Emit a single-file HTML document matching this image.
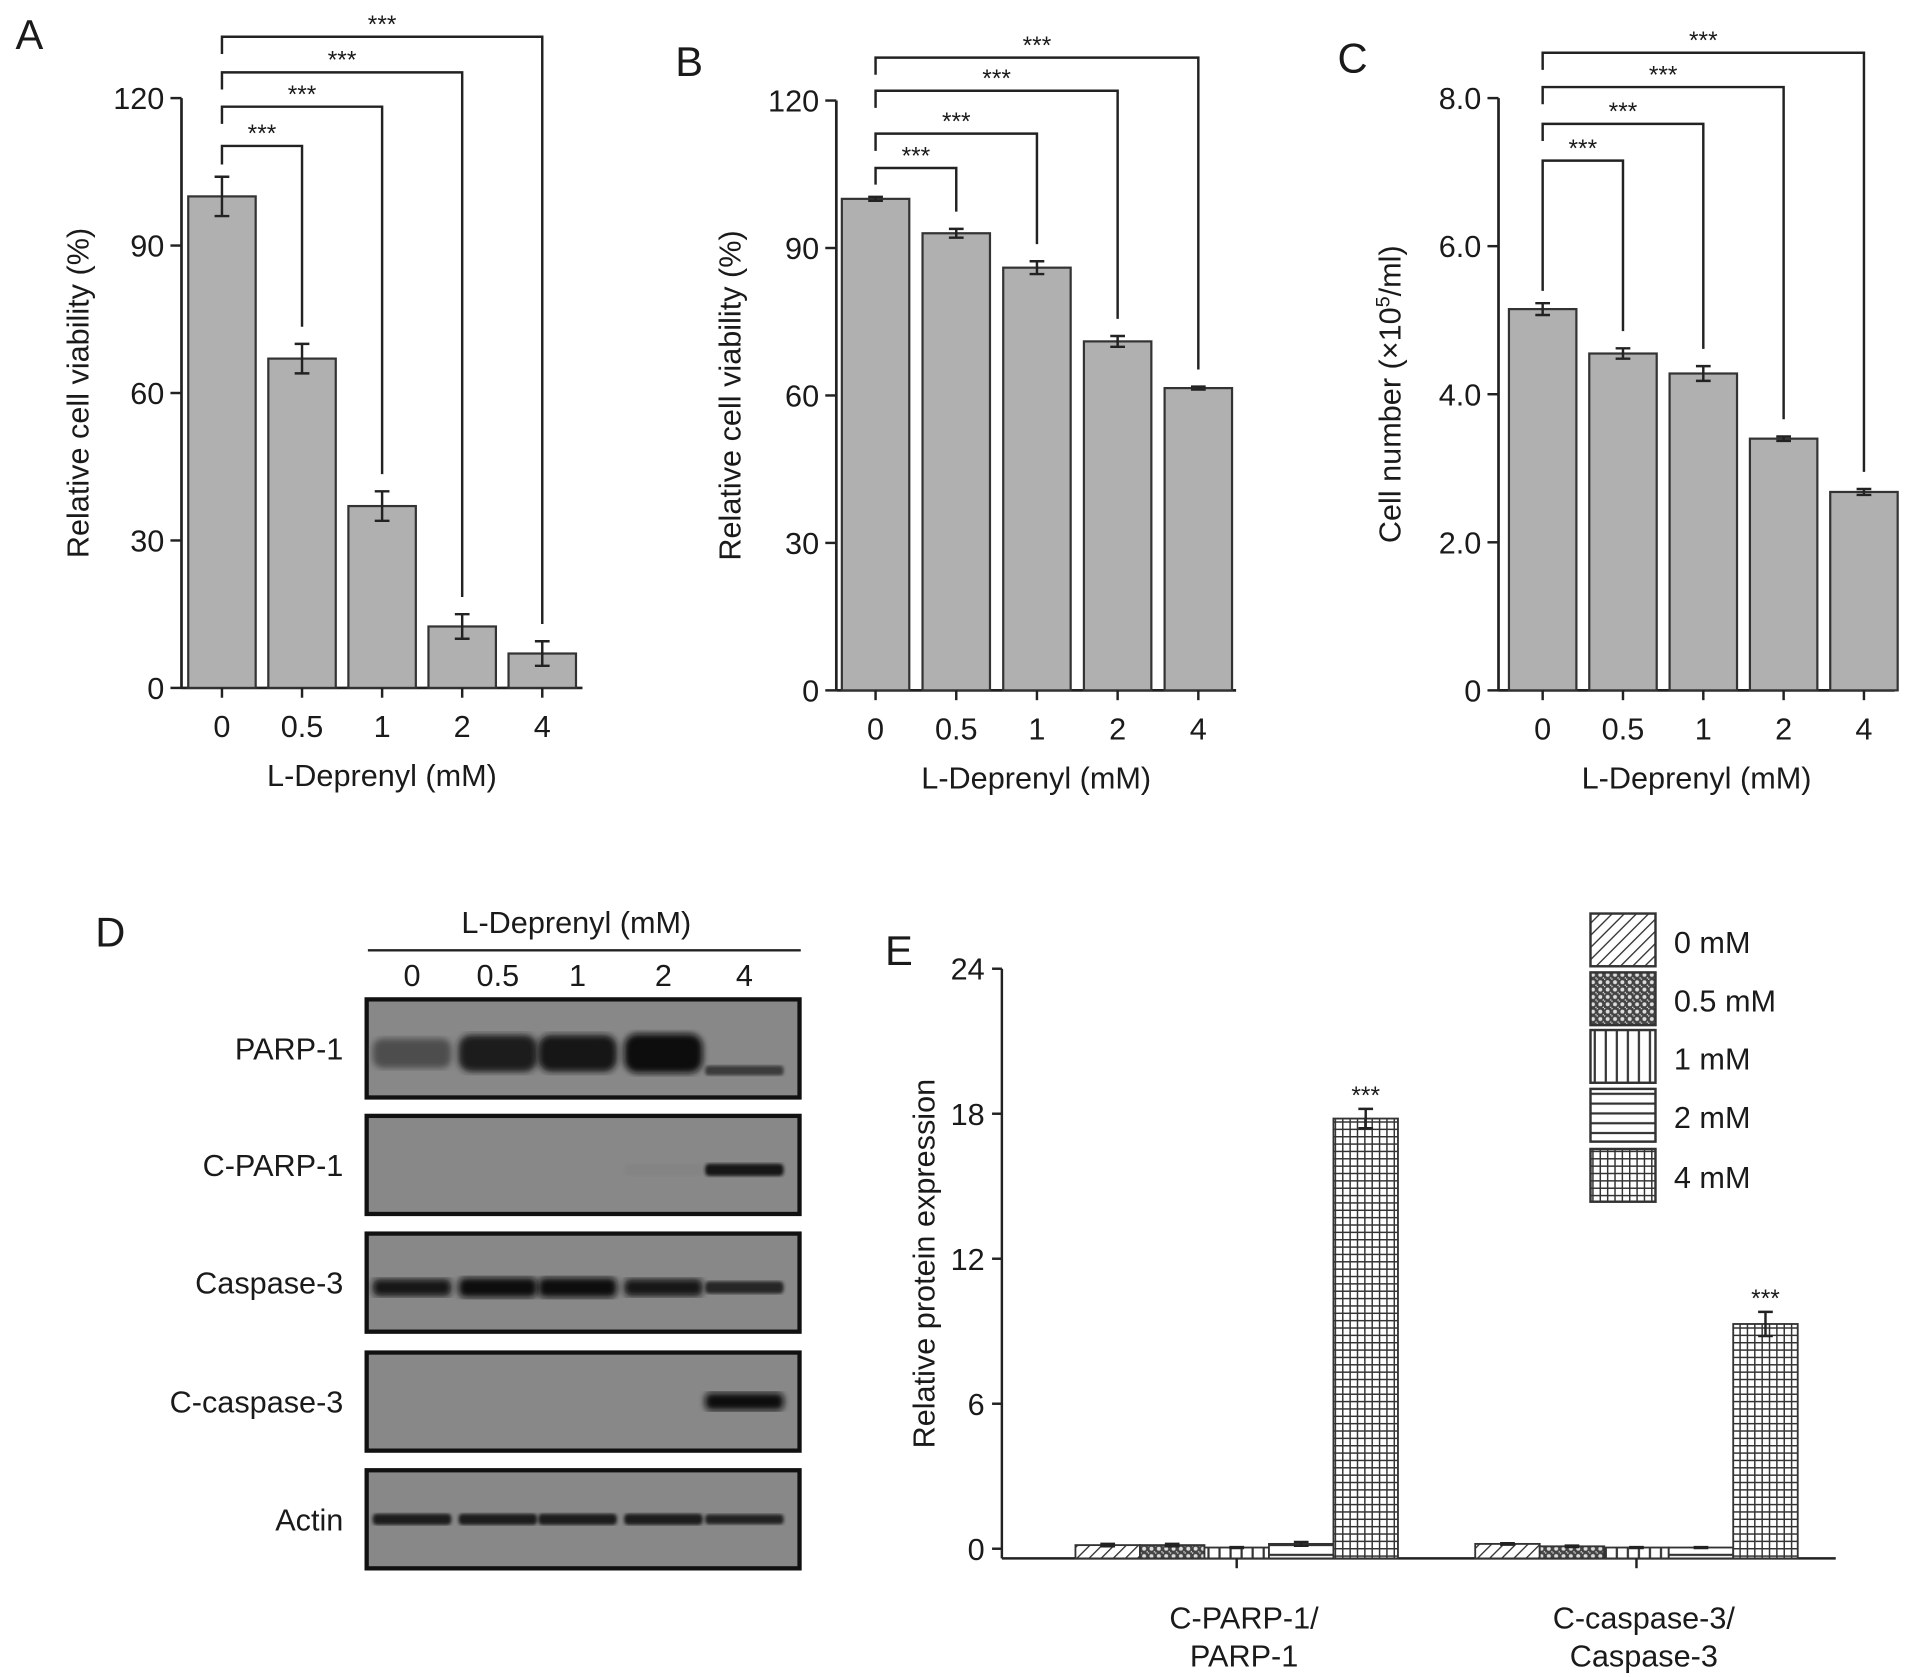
<!DOCTYPE html>
<html><head><meta charset="utf-8"><style>
html,body{margin:0;padding:0;background:#fff;}
svg{display:block;font-family:"Liberation Sans",Arial,sans-serif;}
</style></head><body>
<svg id="fig" width="1913" height="1677" viewBox="0 0 1560 1367.6" preserveAspectRatio="none" xmlns="http://www.w3.org/2000/svg">
<defs>
<pattern id="p0" patternUnits="userSpaceOnUse" width="7" height="7" patternTransform="rotate(45)"><rect width="7" height="7" fill="#fff"/><line x1="0" y1="0" x2="0" y2="7" stroke="#333" stroke-width="2.2"/></pattern>
<pattern id="p1" patternUnits="userSpaceOnUse" width="6" height="6"><rect width="6" height="6" fill="#444"/><circle cx="3" cy="3" r="1.6" fill="#ddd"/><circle cx="0" cy="0" r="1.2" fill="#ddd"/><circle cx="6" cy="6" r="1.2" fill="#ddd"/></pattern>
<pattern id="p2" patternUnits="userSpaceOnUse" width="9" height="9"><rect width="9" height="9" fill="#fff"/><line x1="4.5" y1="0" x2="4.5" y2="9" stroke="#333" stroke-width="1.8"/></pattern>
<pattern id="p3" patternUnits="userSpaceOnUse" width="9" height="8"><rect width="9" height="8" fill="#fff"/><line x1="0" y1="4" x2="9" y2="4" stroke="#333" stroke-width="1.8"/></pattern>
<pattern id="p4" patternUnits="userSpaceOnUse" width="6" height="6"><rect width="6" height="6" fill="#fff"/><line x1="3" y1="0" x2="3" y2="6" stroke="#333" stroke-width="1.2"/><line x1="0" y1="3" x2="6" y2="3" stroke="#333" stroke-width="1.2"/></pattern>
<filter id="blur"><feGaussianBlur stdDeviation="2.5"/></filter>
<filter id="blur2"><feGaussianBlur stdDeviation="1.3"/></filter>
</defs>
<g id="root"></g>
</svg>
<script>
// ---- data ----
const doses = ["0","0.5","1","2","4"];
const aValues = [100, 67, 37, 12.5, 7];
const aErrors = [4, 3, 3, 2.5, 2.5];
const aTicks = [0, 30, 60, 90, 120];
const bValues = [100, 93, 86, 71, 61.5];
const bErrors = [0.4, 0.9, 1.3, 1.1, 0.3];
const bTicks = [0, 30, 60, 90, 120];
const cValues = [5.15, 4.55, 4.28, 3.4, 2.68];
const cErrors = [0.08, 0.07, 0.1, 0.03, 0.04];
const cTicks = [0, 2, 4, 6, 8];
const cTickLabels = ["0", "2.0", "4.0", "6.0", "8.0"];
const eCategories = [["C-PARP-1/","PARP-1"],["C-caspase-3/","Caspase-3"]];
const eSeriesNames = ["0 mM","0.5 mM","1 mM","2 mM","4 mM"];
const eG1Values = [0.15, 0.15, 0.05, 0.2, 17.8];
const eG1Errors = [0.05, 0.05, 0.02, 0.08, 0.4];
const eG2Values = [0.2, 0.1, 0.05, 0.05, 9.3];
const eG2Errors = [0.03, 0.03, 0.02, 0.02, 0.5];
const eTicks = [0, 6, 12, 18, 24];
const blotRows = ["PARP-1","C-PARP-1","Caspase-3","C-caspase-3","Actin"];
const parpIntensity = [0.45, 0.85, 0.9, 0.95, 0.6];
const cparpIntensity = [0, 0, 0, 0.03, 0.9];
const casp3Intensity = [0.9, 0.92, 0.92, 0.9, 0.75];
const ccasp3Intensity = [0, 0, 0, 0, 0.95];
const actinIntensity = [0.85, 0.85, 0.85, 0.85, 0.8];

const NS="http://www.w3.org/2000/svg";
const root=document.getElementById('root');
function el(tag,attrs,parent,txt){const e=document.createElementNS(NS,tag);for(const k in attrs)e.setAttribute(k,attrs[k]);if(txt!==undefined)e.textContent=txt;(parent||root).appendChild(e);return e;}
function txt(x,y,s,size,anchor,parent,extra){const t=el('text',Object.assign({x:x,y:y,'font-size':size,'text-anchor':anchor||'middle',fill:'#1a1a1a'},extra||{}),parent,s);return t;}

function barPanel(cfg){
  const g=el('g',{});
  
  
  const yS=v=>cfg.y0-(v-cfg.ymin)/(cfg.ymax-cfg.ymin)*(cfg.y0-cfg.ytop);
  const xS=i=>cfg.c0+cfg.step*i;
  const ya=el('line',{x1:cfg.ax,y1:cfg.ytop,x2:cfg.ax,y2:cfg.y0,stroke:'#222','stroke-width':2.2},g);
  
  const xa=el('line',{x1:cfg.ax,y1:cfg.y0,x2:cfg.xend,y2:cfg.y0,stroke:'#222','stroke-width':2.2},g);
  
  cfg.ticks.forEach((t,i)=>{const y=yS(t);
    el('line',{x1:cfg.ax-9,y1:y,x2:cfg.ax,y2:y,stroke:'#222','stroke-width':2},g);
    const tl=txt(cfg.ax-14,y+9,cfg.tickLabels[i],25,'end',g);
    });
  cfg.values.forEach((v,i)=>{const cx=xS(i),w=cfg.bw;
    const r=el('rect',{x:cx-w/2,y:yS(v),width:w,height:cfg.y0-yS(v),fill:'#b0b0b0',stroke:'#333','stroke-width':1.8},g);
    
    const e=cfg.errors[i],y1=yS(v+e),y2=yS(v-e);
    el('path',{d:`M${cx},${y1}V${y2}M${cx-6},${y1}H${cx+6}M${cx-6},${y2}H${cx+6}`,stroke:'#222','stroke-width':2,fill:'none'},g);
    el('line',{x1:cx,y1:cfg.y0,x2:cx,y2:cfg.y0+8,stroke:'#222','stroke-width':2},g);
    const xl=txt(cx,cfg.y0+40,doses[i],25,'middle',g);
    
  });
  const x0=xS(0);
  const leftBottom=yS(cfg.values[0]+cfg.errors[0])-10;
  cfg.levels.forEach((ly,k)=>{const i=k+1,xr=xS(i);
    const yr=yS(cfg.values[i]+cfg.errors[i])-14;
    const lb=k===0?leftBottom:ly+14;
    const b=el('path',{d:`M${x0},${lb}V${ly}H${xr}V${yr}`,stroke:'#222','stroke-width':2,fill:'none'},g);
    
    const s=txt((x0+xr)/2,ly-3,'***',20,'middle',g);
    
  });
  const xt=txt((cfg.ax+cfg.xend)/2,cfg.y0+80,'L-Deprenyl (mM)',25,'middle',g);
  
  const yt=el('text',{x:0,y:0,'font-size':25,'text-anchor':'middle',fill:'#1a1a1a',transform:`translate(${cfg.ylx},${(cfg.ytop+cfg.y0)/2}) rotate(-90)`},g);
  yt.innerHTML=cfg.ylabel;
  
  const pl=txt(cfg.lx,cfg.ly,cfg.letter,34,'middle',g);
  
}

barPanel({name:'panel-a-chart',letter:'A',lx:24,ly:40,ax:148,y0:561,ytop:80,ymin:0,ymax:120,c0:181,step:65.3,bw:55,xend:475,
  values:aValues,errors:aErrors,ticks:aTicks,tickLabels:aTicks.map(String),levels:[119,87,59,30],ylx:72,ylabel:'Relative cell viability (%)'});
barPanel({name:'panel-b-chart',letter:'B',lx:562,ly:62,ax:682,y0:563,ytop:82,ymin:0,ymax:120,c0:714,step:65.8,bw:55,xend:1008,
  values:bValues,errors:bErrors,ticks:bTicks,tickLabels:bTicks.map(String),levels:[137,109,74,47],ylx:604,ylabel:'Relative cell viability (%)'});
barPanel({name:'panel-c-chart',letter:'C',lx:1103,ly:59,ax:1222,y0:563,ytop:80,ymin:0,ymax:8,c0:1258,step:65.5,bw:55,xend:1545,
  values:cValues,errors:cErrors,ticks:cTicks,tickLabels:cTickLabels,levels:[131,101,71,43],ylx:1142,ylabel:'Cell number (×10<tspan baseline-shift="super" font-size="16">5</tspan>/ml)'});

// ---- Panel D western blot ----
(function(){
  const g=el('g',{});
  
  
  const pl=txt(90,772,'D',34,'middle',g);
  
  const t=txt(470,761,'L-Deprenyl (mM)',25,'middle',g);
  
  el('line',{x1:300,y1:775,x2:653,y2:775,stroke:'#222','stroke-width':2},g);
  const laneX=[336,406,471,541,607];
  doses.forEach((d,i)=>{const l=txt(laneX[i],804,d,25,'middle',g);
    });
  const tops=[815,910,1006,1103,1199];
  const ints=[parpIntensity,cparpIntensity,casp3Intensity,ccasp3Intensity,actinIntensity];
  const bandY=[0.55,0.55,0.55,0.5,0.5];
  const bandH=[[24,30,30,32,8],[10,10,10,10,10],[14,16,16,14,10],[14,14,14,14,14],[9,9,9,9,8]];
  blotRows.forEach((name,r)=>{
    const top=tops[r],h=80;
    const bg=el('rect',{x:299,y:top,width:353,height:h,fill:'#888',stroke:'#111','stroke-width':3.5},g);
    
    ints[r].forEach((v,i)=>{ if(v<=0) return;
      const hh=bandH[r][i];
      const y=top+h*bandY[r]-hh/2+(r===0&&i===4?14:0);
      const c=Math.round(136-130*v);
      el('rect',{x:laneX[i]-32,y:y,width:64,height:hh,rx:hh/3,fill:`rgb(${c},${c},${c})`,filter:hh>12?'url(#blur)':'url(#blur2)'},g);
    });
    const rl=txt(280,top+h/2+9,name,25,'end',g);
    
  });
})();

// ---- Panel E ----
(function(){
  const g=el('g',{});
  
  
  const ax=817,ytop=790,yZero=1263,ymax=24;
  const yS=v=>yZero-v/ymax*(yZero-ytop);
  const base=yS(-0.4);
  const pl=txt(733,787,'E',34,'middle',g);
  
  const ya=el('line',{x1:ax,y1:ytop,x2:ax,y2:base,stroke:'#222','stroke-width':2},g);
  
  const xa=el('line',{x1:ax,y1:base,x2:1497,y2:base,stroke:'#222','stroke-width':2},g);
  
  eTicks.forEach(t=>{const y=yS(t);
    el('line',{x1:ax-8,y1:y,x2:ax,y2:y,stroke:'#222','stroke-width':2},g);
    const tl=txt(ax-14,y+9,String(t),25,'end',g);
    });
  const groups=[[eG1Values,eG1Errors,877],[eG2Values,eG2Errors,1203]];
  const bw=52.6;
  groups.forEach((gr,gi)=>{
    gr[0].forEach((v,i)=>{const x=gr[2]+bw*i;
      const r=el('rect',{x:x,y:yS(v),width:bw,height:base-yS(v),fill:`url(#p${i})`,stroke:'#333','stroke-width':1.5},g);
      
      const cx=x+bw/2,e=gr[1][i],y1=yS(v+e),y2=yS(v-e);
      el('path',{d:`M${cx},${y1}V${y2}M${cx-6},${y1}H${cx+6}M${cx-6},${y2}H${cx+6}`,stroke:'#222','stroke-width':2,fill:'none'},g);
      if(i===4){const s=txt(cx,y1-4,'***',20,'middle',g);
        }
    });
    const gc=gr[2]+bw*2.5;
    el('line',{x1:gc,y1:base,x2:gc,y2:base+8,stroke:'#222','stroke-width':2},g);
    eCategories[gi].forEach((ln,k)=>{const l=txt(gc+6,1328+31*k,ln,25,'middle',g);
      });
  });
  const yt=el('text',{x:0,y:0,'font-size':25,'text-anchor':'middle',fill:'#1a1a1a',transform:`translate(762,${(ytop+yZero)/2+4}) rotate(-90)`},g,'Relative protein expression');
  
  const lg=el('g',{},g);
  
  const ly=[745,793,840,888,937];
  eSeriesNames.forEach((n,i)=>{
    const r=el('rect',{x:1297,y:ly[i],width:53,height:43,fill:`url(#p${i})`,stroke:'#333','stroke-width':2},lg);
    
    const t=txt(1365,ly[i]+32,n,25,'start',lg);
    
  });
})();
</script>
</body></html>
